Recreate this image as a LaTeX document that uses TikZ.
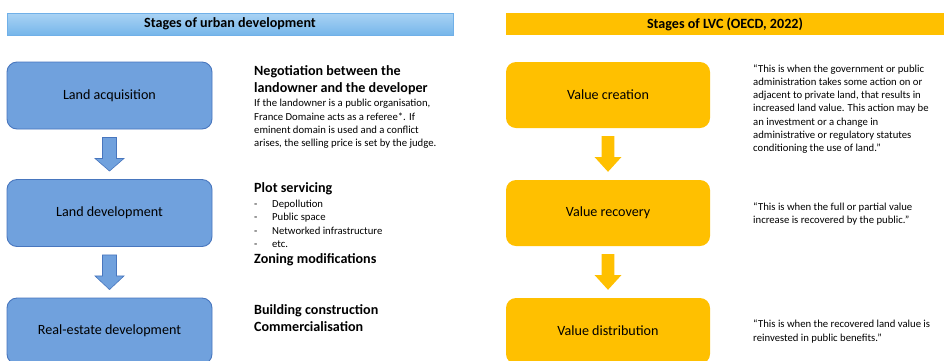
\documentclass[tikz,border=0pt]{standalone}
\usepackage{fontspec}
\setmainfont{Carlito}
\usetikzlibrary{calc}
\definecolor{boxblue}{RGB}{112,161,221}
\definecolor{edgeblue}{RGB}{72,118,190}
\definecolor{hdrtop}{RGB}{170,211,244}
\definecolor{hdrbot}{RGB}{118,182,234}
\definecolor{hdredge}{RGB}{112,176,232}
\definecolor{lvc}{RGB}{255,192,0}
\newcommand{\stagearrow}[5]{%
  \path[#1] ($(#2.south)+(-#4,8)$) -- ($(#2.south)+(#4,8)$) -- ($(#2.south)+(#4,29)$)
    -- ($(#2.south)+(#5,29)$) -- ($(#3.north)+(0,-8)$) -- ($(#2.south)+(-#5,29)$)
    -- ($(#2.south)+(-#4,29)$) -- cycle;}
\tikzset{
  x=1pt, y=-1pt,
  boxfont/.style={font=\fontsize{14.1}{17}\selectfont},
  stagebox/.style={boxfont, draw=edgeblue, line width=0.9pt, fill=boxblue,
    rounded corners=10pt, minimum width=205pt, minimum height=67pt, inner sep=0pt},
  lvcbox/.style={boxfont, fill=lvc, rounded corners=10pt,
    minimum width=204pt, minimum height=66pt, inner sep=0pt},
  header/.style={font=\fontsize{14.1}{17}\selectfont\bfseries, minimum height=22pt, inner sep=0pt},
  txt/.style={anchor=base west, inner sep=0pt},
  bluearrow/.style={fill=boxblue, draw=edgeblue, line width=0.6pt},
  lvcarrow/.style={fill=lvc},
}
\newcommand{\bighead}[1]{\fontsize{14.1}{16.6}\selectfont\bfseries #1}
\newcommand{\smalltxt}[2]{\fontsize{10.7}{#1}\selectfont #2}
\begin{document}
\begin{tikzpicture}
\useasboundingbox (0,0) rectangle (944,360);
\clip (0,0) rectangle (944,360);
\fill[white] (0,0) rectangle (944,360);

% headers
\node[header, minimum width=446pt, top color=hdrtop, bottom color=hdrbot, draw=hdredge, line width=0.6pt]
  (h1) at (230,24) {Stages of urban development};
\node[header, minimum width=438pt, fill=lvc] (h2) at (725,24) {Stages of LVC (OECD, 2022)};

% left column
\node[stagebox] (a1) at (109.5,95.5) {Land acquisition};
\node[stagebox] (a2) at (109.5,213) {Land development};
\node[stagebox, minimum height=66pt] (a3) at (109.5,331) {Real-estate development};
\stagearrow{bluearrow}{a1}{a2}{7}{14.5}
\stagearrow{bluearrow}{a2}{a3}{7}{14.5}

% right column
\node[lvcbox] (b1) at (608,95) {Value creation};
\node[lvcbox] (b2) at (608,213) {Value recovery};
\node[lvcbox] (b3) at (608,331) {Value distribution};
\stagearrow{lvcarrow}{b1}{b2}{6.3}{13.3}
\stagearrow{lvcarrow}{b2}{b3}{6.3}{13.3}

% left descriptions
\node[txt] (t1) at (254,75.6) {\parbox[t]{240pt}{\bighead{Negotiation between the\\landowner and the developer}}};
\node[txt] (t2) at (254,106.7) {\parbox[t]{240pt}{\smalltxt{13.3}{If the landowner is a public organisation,\\France Domaine acts as a referee*. If\\eminent domain is used and a conflict\\arises, the selling price is set by the judge.}}};
\node[txt] (t3) at (254,192.3) {\bighead{Plot servicing}};
\node[txt] (t4) at (254,207.5) {\parbox[t]{240pt}{\smalltxt{13.3}{\makebox[18pt][l]{-}Depollution\\\makebox[18pt][l]{-}Public space\\\makebox[18pt][l]{-}Networked infrastructure\\\makebox[18pt][l]{-}etc.}}};
\node[txt] (t5) at (254,263.5) {\bighead{Zoning modifications}};
\node[txt] (t6) at (254,314.6) {\parbox[t]{240pt}{\bighead{Building construction\\Commercialisation}}};

% right descriptions
\node[txt] (q1) at (753,72.3) {\parbox[t]{200pt}{\smalltxt{13.2}{“This is when the government or public\\administration takes some action on or\\adjacent to private land, that results in\\increased land value. This action may be\\an investment or a change in\\administrative or regulatory statutes\\conditioning the use of land.”}}};
\node[txt] (q2) at (753,210) {\parbox[t]{200pt}{\smalltxt{13.2}{“This is when the full or partial value\\increase is recovered by the public.”}}};
\node[txt] (q3) at (753,327.7) {\parbox[t]{200pt}{\smalltxt{13.3}{“This is when the recovered land value is\\reinvested in public benefits."}}};
\end{tikzpicture}
\end{document}
